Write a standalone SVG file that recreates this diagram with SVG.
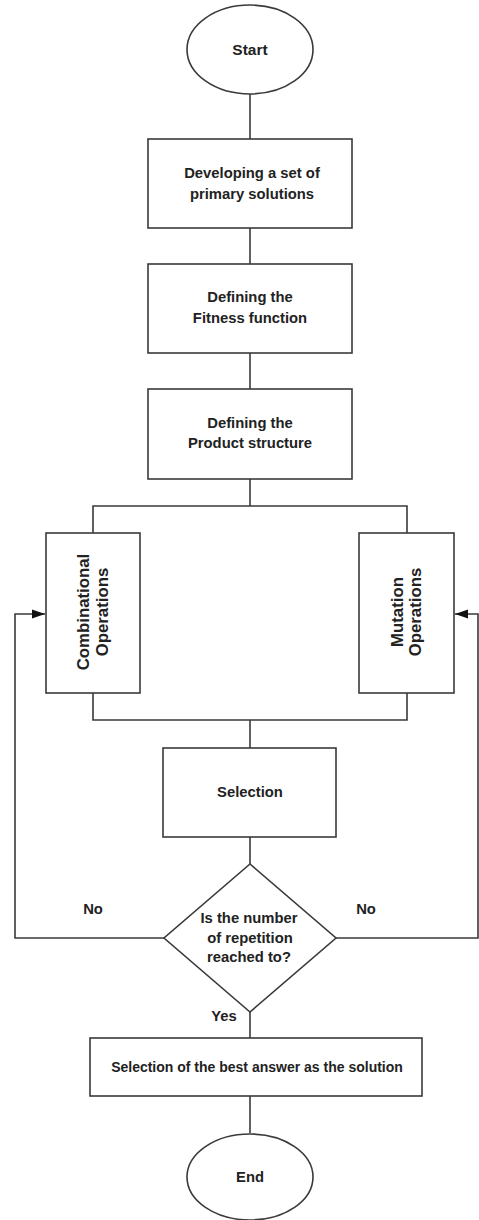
<svg xmlns="http://www.w3.org/2000/svg" width="479" height="1220" viewBox="0 0 479 1220">
<style>
.shape{fill:#fff;stroke:#3a3a3a;stroke-width:1.6}
.conn{fill:none;stroke:#3a3a3a;stroke-width:1.6}
.t{font-family:"Liberation Sans",Arial,sans-serif;font-weight:bold;font-size:14.8px;fill:#222;text-anchor:middle}
.r{font-size:16.8px}
</style>
<defs>
<marker id="ah" markerWidth="14" markerHeight="10" refX="13" refY="5" orient="auto" markerUnits="userSpaceOnUse">
<path d="M0,0.5 L13,5 L0,9.5 Z" fill="#111"/>
</marker>
</defs>
<rect width="479" height="1220" fill="#fff"/>
<g id="connectors">
<path class="conn" d="M250,94 V139"/>
<path class="conn" d="M250,228 V264"/>
<path class="conn" d="M250,353 V389"/>
<path class="conn" d="M250,479 V506"/>
<path class="conn" d="M93,533 V506 H407 V533"/>
<path class="conn" d="M93,693 V720 H407 V693"/>
<path class="conn" d="M250,720 V748"/>
<path class="conn" d="M250,837 V864"/>
<path class="conn" d="M164,938 H15 V614 H45" marker-end="url(#ah)"/>
<path class="conn" d="M336,938 H478 V614 H455" marker-end="url(#ah)"/>
<path class="conn" d="M250,1012 V1038"/>
<path class="conn" d="M250,1096 V1133"/>
</g>
<g id="start">
<ellipse class="shape" cx="250" cy="49.5" rx="63" ry="44.5"/>
<text class="t" x="250" y="55" style="font-size:15.5px">Start</text>
</g>
<g id="develop">
<rect class="shape" x="148" y="139" width="204" height="89"/>
<text class="t" x="252" y="178">Developing a set of</text>
<text class="t" x="252" y="199">primary solutions</text>
</g>
<g id="fitness">
<rect class="shape" x="148" y="264" width="204" height="89"/>
<text class="t" x="250" y="302">Defining the</text>
<text class="t" x="250" y="323">Fitness function</text>
</g>
<g id="product">
<rect class="shape" x="148" y="389" width="204" height="90"/>
<text class="t" x="250" y="428">Defining the</text>
<text class="t" x="250" y="448">Product structure</text>
</g>
<g id="combinational">
<rect class="shape" x="46" y="533" width="94" height="160"/>
<text class="t r" transform="translate(89,612) rotate(-90)">Combinational</text>
<text class="t r" transform="translate(108,612) rotate(-90)">Operations</text>
</g>
<g id="mutation">
<rect class="shape" x="359" y="533" width="95" height="160"/>
<text class="t r" transform="translate(403,612) rotate(-90)">Mutation</text>
<text class="t r" transform="translate(421,612) rotate(-90)">Operations</text>
</g>
<g id="selection">
<rect class="shape" x="163" y="748" width="173" height="89"/>
<text class="t" x="250" y="797">Selection</text>
</g>
<g id="decision">
<polygon class="shape" points="250,864 336,938 250,1012 164,938"/>
<text class="t" x="249" y="923">Is the number</text>
<text class="t" x="250" y="943">of repetition</text>
<text class="t" x="249" y="962">reached to?</text>
</g>
<g id="labels">
<text class="t" x="93" y="914">No</text>
<text class="t" x="366" y="914">No</text>
<text class="t" x="224" y="1021">Yes</text>
</g>
<g id="best">
<rect class="shape" x="90" y="1038" width="332" height="58"/>
<text class="t" x="257" y="1072" style="font-size:14px">Selection of the best answer as the solution</text>
</g>
<g id="end">
<ellipse class="shape" cx="250" cy="1177" rx="63" ry="43"/>
<text class="t" x="250" y="1182">End</text>
</g>
</svg>
